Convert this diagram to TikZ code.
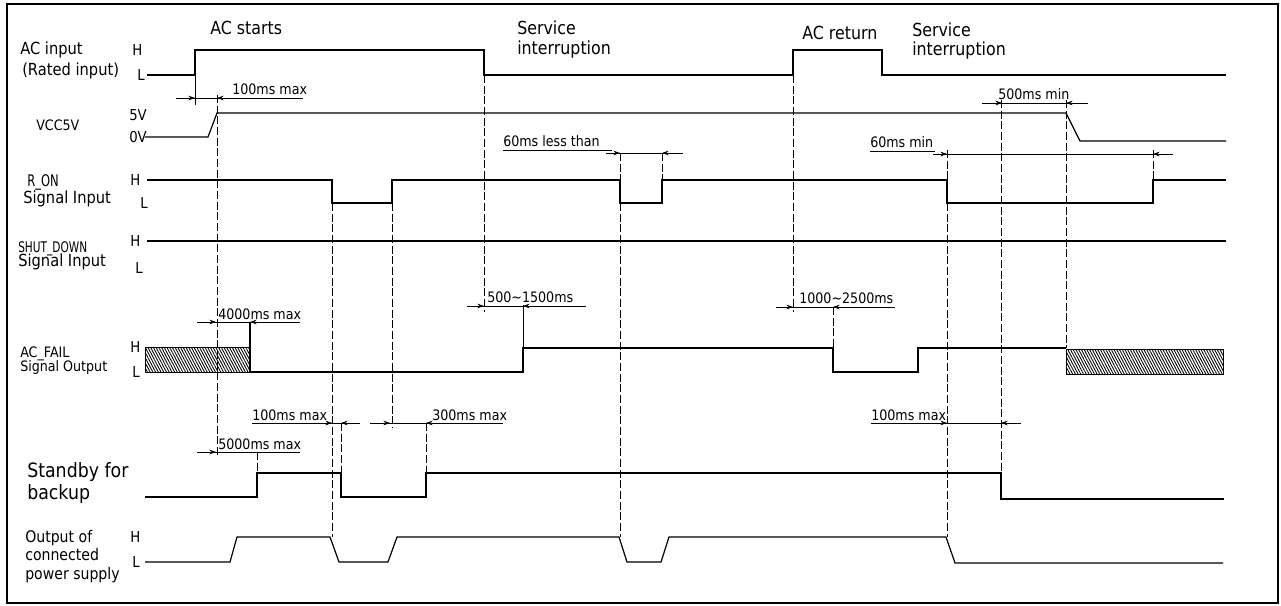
\documentclass[tikz,border=0pt]{standalone}
\usepackage{fontspec}
\setmainfont{DejaVu Sans}[FakeStretch=0.88]
\newfontfamily\narrowfont{DejaVu Sans}[FakeStretch=0.72]
\usetikzlibrary{arrows.meta,patterns.meta}

\begin{document}
\begin{tikzpicture}[
  x=0.75pt, y=-0.75pt,
  every node/.style={inner sep=0pt, anchor=base west},
  sig/.style={line width=0.9pt, line join=miter},
  guide/.style={line width=0.55pt, dash pattern=on 6pt off 2pt},
  dimln/.style={line width=0.55pt},
  dimarr/.style={line width=0.55pt, -{Stealth[length=5pt,width=3.5pt]}},
  hatch/.style={draw, line width=0.6pt, pattern={Lines[angle=-62,distance=1.8pt,line width=0.65pt]}},
  title/.style={font=\fontsize{13.5}{15}\selectfont},
  rowtxt/.style={font=\fontsize{12.5}{14}\selectfont},
  narrowtxt/.style={font=\narrowfont\fontsize{12}{14}\selectfont},
  smalltxt/.style={font=\fontsize{10.8}{12}\selectfont},
  lvl/.style={anchor=west, font=\fontsize{11.3}{13}\selectfont},
  dimtxt/.style={font=\fontsize{10.8}{12}\selectfont}
]
  \useasboundingbox (0,0) rectangle (1281,606);
  \draw[line width=1pt] (7,4) rectangle (1278,603);

  \node[title] (acStart) at (210,35)  {AC starts};
  \node[title] (svcA)    at (517,35)  {Service};
  \node[title] (svcAb)   at (517,55)  {interruption};
  \node[title] (acRet)   at (802,40)  {AC return};
  \node[title] (svcB)    at (912,37)  {Service};
  \node[title] (svcBb)   at (912,56)  {interruption};

  \node[rowtxt]    (acIn)    at (20,55)  {AC input};
  \node[rowtxt]    (acInb)   at (22,76)  {(Rated input)};
  \node[smalltxt]  (vcc)     at (36,131) {VCC5V};
  \node[narrowtxt] (ron)     at (27,186) {R\_ON};
  \node[rowtxt]    (ronb)    at (23,204) {Signal Input};
  \node[narrowtxt, font=\narrowfont\fontsize{11}{13}\selectfont] (shut) at (18,252) {SHUT\_DOWN};
  \node[rowtxt]    (shutb)   at (18,266) {Signal Input};
  \node[smalltxt]  (acf)     at (20,357) {AC\_FAIL};
  \node[smalltxt]  (acfb)    at (20,371) {Signal Output};
  \node[font=\fontsize{14.8}{17}\selectfont] (stby)  at (27,477) {Standby for};
  \node[font=\fontsize{14.8}{17}\selectfont] (stbyb) at (27,499) {backup};
  \node[font=\fontsize{12}{14}\selectfont] (outp)   at (25,542) {Output of};
  \node[font=\fontsize{12}{14}\selectfont] (outpb)  at (25,560) {connected};
  \node[font=\fontsize{12}{14}\selectfont] (outpc)  at (25,579) {power supply};

  \node[lvl] (acH)   at (132,50)  {H};
  \node[lvl] (acL)   at (137,75)  {L};
  \node[lvl] (vcc5)  at (129,115) {5V};
  \node[lvl] (vcc0)  at (129,137) {0V};
  \node[lvl] (ronH)  at (130,180) {H};
  \node[lvl] (ronL)  at (140,203) {L};
  \node[lvl] (shutH) at (130,241) {H};
  \node[lvl] (shutL) at (135,268) {L};
  \node[lvl] (acfH)  at (130,347) {H};
  \node[lvl] (acfL)  at (132,372) {L};
  \node[lvl] (outH)  at (130,537) {H};
  \node[lvl] (outL)  at (132,562) {L};

  \draw[sig] (147,75) -- (195,75) -- (195,50) -- (484,50) -- (484,75) -- (793,75)
    -- (793,50) -- (882,50) -- (882,75) -- (1226,75);
  \draw[sig] (145,137) -- (208,137) -- (217,113) -- (1066,113) -- (1080,141) -- (1226,141);
  \draw[sig] (147,180) -- (332,180) -- (332,203) -- (392,203) -- (392,180) -- (620,180)
    -- (620,203) -- (662,203) -- (662,180) -- (947,180) -- (947,203) -- (1153,203)
    -- (1153,180) -- (1226,180);
  \draw[sig] (147,241) -- (1226,241);
  \draw[hatch] (145,347) rectangle (250,372);
  \draw[sig] (250,322) -- (250,372) -- (523,372) -- (523,348) -- (833,348) -- (833,372)
    -- (918,372) -- (918,348) -- (1066,348);
  \draw[hatch] (1066,349) rectangle (1223,374);
  \draw[sig] (145,497) -- (257,497) -- (257,473) -- (341,473) -- (341,497) -- (426,497)
    -- (426,473) -- (1001,473) -- (1001,499) -- (1224,499);
  \draw[sig] (145,562) -- (230,562) -- (237,537) -- (330,537) -- (339,562) -- (388,562)
    -- (397,537) -- (619,537) -- (627,562) -- (661,562) -- (669,537) -- (946,537)
    -- (955,563) -- (1223,563);

  \draw[dimln] (195,75) -- (195,105);
  \draw[dimln] (523,348) -- (523,305);
  \draw[guide] (217,95) -- (217,457);
  \draw[guide] (257,452) -- (257,473);
  \draw[guide] (332,203) -- (332,537);
  \draw[guide] (341,423) -- (341,473);
  \draw[guide] (392,203) -- (392,428);
  \draw[guide] (426,423) -- (426,473);
  \draw[guide] (484,75) -- (484,312);
  \draw[guide] (620,153) -- (620,180);
  \draw[guide] (620,203) -- (620,537);
  \draw[guide] (662,153) -- (662,180);
  \draw[guide] (793,75) -- (793,312);
  \draw[guide] (833,307) -- (833,348);
  \draw[guide] (947,150) -- (947,180);
  \draw[guide] (947,203) -- (947,537);
  \draw[guide] (1001,100) -- (1001,473);
  \draw[guide] (1066,100) -- (1066,348);
  \draw[guide] (1153,150) -- (1153,180);

  \node[dimtxt] (d1) at (232,95) {100ms max};
  \draw[dimln] (176,98) -- (303,98);
  \draw[dimarr] (178,98) -- (195,98);
  \draw[dimarr] (234,98) -- (217,98);

  \node[dimtxt] (d2) at (998,100) {500ms min};
  \draw[dimln] (982,103) -- (1088,103);
  \draw[dimarr] (984,103) -- (1002,103);
  \draw[dimarr] (1084,103) -- (1066,103);

  \node[dimtxt] (d3) at (503,147) {60ms less than};
  \draw[dimln] (503,150) -- (612,150);
  \draw[dimln] (612,153) -- (683,153);
  \draw[dimarr] (606,153) -- (620,153);
  \draw[dimarr] (680,153) -- (662,153);

  \node[dimtxt] (d4) at (870,148) {60ms min};
  \draw[dimln] (870,151) -- (935,151);
  \draw[dimln] (940,154) -- (1173,154);
  \draw[dimarr] (933,154) -- (947,154);
  \draw[dimarr] (1170,154) -- (1153,154);

  \node[dimtxt] (d5) at (487,302) {500∼1500ms};
  \draw[dimln] (467,306) -- (586,306);
  \draw[dimarr] (468,306) -- (484,306);
  \draw[dimarr] (538,306) -- (523,306);

  \node[dimtxt] (d6) at (799,303) {1000∼2500ms};
  \draw[dimln] (776,307) -- (895,307);
  \draw[dimarr] (777,307) -- (793,307);
  \draw[dimarr] (849,307) -- (833,307);

  \node[dimtxt] (d7) at (218,319) {4000ms max};
  \draw[dimln] (197,322) -- (300,322);
  \draw[dimarr] (198,322) -- (216,322);
  \draw[dimarr] (264,322) -- (250,322);

  \node[dimtxt] (d8) at (252,420) {100ms max};
  \draw[dimln] (252,423) -- (360,423);
  \draw[dimarr] (318,423) -- (332,423);
  \draw[dimarr] (358,423) -- (341,423);

  \node[dimtxt] (d9) at (432,420) {300ms max};
  \draw[dimln] (370,423) -- (503,423);
  \draw[dimarr] (372,423) -- (390,423);
  \draw[dimarr] (440,423) -- (426,423);

  \node[dimtxt] (d10) at (218,449) {5000ms max};
  \draw[dimln] (197,452) -- (300,452);
  \draw[dimarr] (198,452) -- (216,452);

  \node[dimtxt] (d11) at (871,420) {100ms max};
  \draw[dimln] (871,423) -- (1021,423);
  \draw[dimarr] (933,423) -- (947,423);
  \draw[dimarr] (1016,423) -- (1001,423);
\end{tikzpicture}
\end{document}
